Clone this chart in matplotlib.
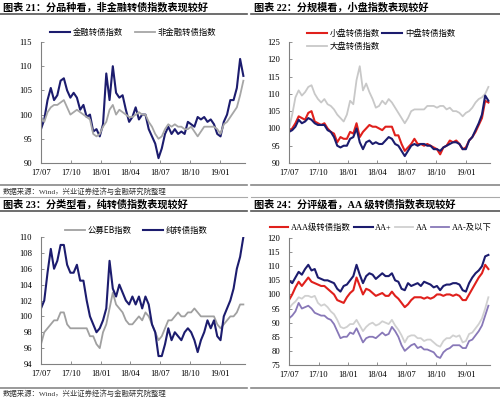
import matplotlib
matplotlib.use('Agg')
import matplotlib.pyplot as plt
import matplotlib.lines as mlines
import pandas as pd

plt.rcParams['font.family'] = ['Liberation Serif', 'Noto Sans CJK SC']

# 共通の日付（約10日間隔）
dates = pd.date_range('2017-07-01', periods=63, freq='10D').to_pydatetime()
tick_dates = pd.to_datetime(['2017-07-01', '2017-10-01', '2018-01-01', '2018-04-01',
                             '2018-07-01', '2018-10-01', '2019-01-01']).to_pydatetime()
tick_labels = ['17/07', '17/10', '18/01', '18/04', '18/07', '18/10', '19/01']

# 図表21
fin = [97, 99, 103, 105.5, 103, 104, 107, 107.5, 105, 103.5, 104.5, 103.5, 101, 102, 99.5, 100,
       96.5, 97, 95.5, 98, 108.5, 103, 110, 104.5, 103.5, 104, 101, 98.5, 99.5, 101.5, 99, 100,
       100, 97, 95.5, 94, 91, 93, 96, 97.5, 96, 97, 96, 96.5, 96, 98.5, 98, 97.5,
       99.5, 99, 99.5, 98.5, 99, 98, 96, 95.5, 98.5, 100, 103, 103, 105.5, 111.5, 108]
nonfin = [99.5, 98.5, 100.5, 101.5, 102, 102, 102.5, 103, 101.5, 100, 100.5, 101, 100.5, 100, 99.5, 99,
          96, 95.5, 96, 97.5, 98.5, 101, 102, 100, 101, 100.5, 100, 99.5, 99.5, 100, 100.5, 100,
          100, 98.5, 97.5, 96, 95, 95.5, 97, 98, 97.5, 98, 97.5, 97.5, 97, 97, 97.5, 96.5,
          95.5, 96.5, 97.5, 97.5, 97.5, 97.5, 97, 96, 98, 98.5, 99.5, 100.5, 101.5, 104, 107]

# 図表22
small = [99, 100, 101.5, 103.5, 103, 102.5, 104.5, 105, 102, 101.5, 101, 101.5, 100, 99, 98.5, 96,
         97.5, 97, 97, 99, 98.5, 101.5, 97.5, 99, 100, 101, 100.5, 100.5, 100, 99.5, 100.5, 100.5,
         100.5, 98, 98, 95.5, 93.5, 94.5, 95.5, 97, 95.5, 95.5, 95, 95.5, 95, 94.5, 94, 92.5,
         94.5, 95, 96.5, 96, 96.5, 95.5, 94, 94.5, 96.5, 97.5, 99, 101, 103, 108, 107.5]
mid = [99, 99.5, 100.5, 102.5, 101.5, 102, 103, 102.5, 101.5, 101, 101, 101, 99.5, 99, 97.5, 95,
       94.5, 95, 95, 97, 97.5, 100, 96, 94, 96, 96.5, 95.5, 96, 95.5, 95.5, 96.5, 97.5,
       97, 95.5, 95, 93.5, 92, 93.5, 95, 95.5, 95, 95.5, 95.5, 95, 95, 94, 94, 93.5,
       94.5, 95, 95.5, 96, 96, 95.5, 94, 94, 96.5, 97.5, 99.5, 101.5, 104, 109.5, 108]
large = [100, 104, 109, 111, 109.5, 110.5, 112, 112.5, 110, 108.5, 107.5, 108.5, 107, 106.5, 105.5, 104,
         103, 102, 104, 108, 107, 114, 118, 111, 113, 110.5, 108.5, 106, 106.5, 108, 107, 108.5,
         107.5, 106, 104.5, 103, 101.5, 103, 105, 105.5, 105.5, 105.5, 105.5, 106.5, 106.5, 106.5, 106, 106.5,
         106.5, 105.5, 106, 105, 105, 104.5, 103.5, 104.5, 105, 106, 107.5, 108.5, 109, 110, 112]

# 図表23
eb = [96.5, 98, 98.5, 99, 99.5, 99.5, 100.5, 100.5, 99, 98.5, 98.5, 98.5, 98.5, 98.5, 98.5, 97.5,
      97.5, 96.5, 96, 98, 99, 101, 103, 101.5, 101, 100.5, 99.5, 99, 99, 99.5, 100, 99.5,
      100.5, 100, 99, 98, 97, 97.5, 98.5, 99.5, 99.5, 100, 100.5, 100, 100, 100.5, 100.5, 101,
      100.5, 100, 100, 100, 100, 100, 99, 98.5, 99, 99.5, 100, 100, 100.5, 101.5, 101.5]
pure = [101, 102, 105.5, 108.5, 106, 107, 109, 109, 106.5, 105.5, 105.5, 106.5, 104.5, 104.5, 102, 100,
        99, 98, 98.5, 99.5, 101, 107, 103.5, 102.5, 104, 103, 102, 101.5, 102.5, 101.5, 102.5, 101,
        102.5, 101.5, 99, 98, 95, 95, 96.5, 98.5, 97, 98, 97.5, 97, 98, 98.5, 98, 97,
        95.5, 97, 98, 99.5, 98.5, 99.5, 97.5, 97, 100, 101, 102, 103.5, 106, 107.5, 110]

# 図表24
aaa = [98, 100, 102.5, 104.5, 103, 104.5, 106, 104.5, 104, 103.5, 103, 103, 102, 101, 100, 98,
       97.5, 97, 99, 100.5, 101.5, 106, 103, 100, 102, 101.5, 100.5, 99.5, 100, 100.5, 99.5, 99.5,
       101, 99.5, 98.5, 97, 95.5, 96.5, 98, 99, 99, 99, 98.5, 99, 98.5, 99, 100, 100,
       99.5, 100, 100, 99.5, 100, 99.5, 98, 98, 100, 102, 104, 106, 107.5, 110.5, 109]
aa_plus = [105, 104, 106, 108, 107, 109, 110.5, 108.5, 109, 106, 105.5, 105, 105, 104.5, 104, 102,
           101, 103, 103.5, 105, 106.5, 110.5, 107, 104, 106.5, 107.5, 107, 105.5, 106.5, 107.5, 106.5, 106.5,
           107.5, 105, 104.5, 102, 101.5, 104, 103, 103.5, 104, 103, 104.5, 104, 103.5, 102.5, 103, 101.5,
           103, 103.5, 103.5, 104, 104, 103.5, 101.5, 101, 104, 106, 107.5, 108.5, 110, 113.5, 114]
aa = [95, 96.5, 97.5, 99, 98.5, 99.5, 99.5, 99, 99.5, 97, 96, 96.5, 95.5, 94, 93, 91,
      88.5, 88, 88.5, 89.5, 89.5, 91, 89, 87, 88.5, 89.5, 90, 89, 89.5, 90.5, 90, 89.5,
      91, 89, 87.5, 85.5, 83, 85, 85.5, 85.5, 84.5, 84.5, 83.5, 84, 84, 83, 82, 81.5,
      83.5, 84.5, 84.5, 85.5, 85, 85.5, 83, 83.5, 86, 86.5, 88, 89.5, 91.5, 95, 99]
aa_minus = [91.5, 92.5, 94, 97, 95, 95.5, 96, 95, 93.5, 93, 92.5, 92.5, 91.5, 91, 89.5, 87,
            84.5, 85, 85, 86.5, 86, 88, 85.5, 83, 84.5, 85, 85, 84.5, 85.5, 86.5, 85.5, 86,
            88.5, 87, 85, 82, 80, 81, 82, 82.5, 81, 81.5, 80.5, 80.5, 80, 79.5, 78, 77.5,
            79.5, 80.5, 81, 82, 82, 82, 81, 81, 83.5, 84, 85.5, 87, 89, 92.5, 96]

NAVY = '#1c1c6e'
RED = '#e0201c'
CJK = ['Noto Sans CJK SC', 'DejaVu Sans']

fig = plt.figure(figsize=(5, 3.98), dpi=100)
W, H = 500, 398


def px_axes(x0, y0, x1, y1):
    return fig.add_axes([x0 / W, 1 - y1 / H, (x1 - x0) / W, (y1 - y0) / H])


def style(ax, ylo, yhi, step):
    ax.set_xlim(tick_dates[0], pd.Timestamp('2019-03-18').to_pydatetime())
    ax.set_ylim(ylo, yhi)
    ax.set_yticks(range(ylo, yhi + 1, step))
    ax.set_xticks(tick_dates, tick_labels)
    for s in ['top', 'right']:
        ax.spines[s].set_visible(False)
    for s in ['left', 'bottom']:
        ax.spines[s].set_color('#808080')
        ax.spines[s].set_linewidth(0.8)
    ax.tick_params(direction='in', length=2.5, width=0.6, color='#808080', labelsize=6.2)
    ax.tick_params(axis='x', pad=4.5)
    ax.tick_params(axis='y', pad=6.5)


def header(x0, x1, y, title):
    fig.text((x0 + 3) / W, 1 - y / H, title, fontsize=7.3, fontweight='bold',
             va='center', ha='left')
    ly = 14 if y < 20 else 211
    fig.add_artist(mlines.Line2D([x0 / W, x1 / W], [1 - ly / H] * 2, color='#555555', lw=1.2))


def rule(x0, x1, y, lw=1.2, color='#888888'):
    fig.add_artist(mlines.Line2D([x0 / W, x1 / W], [1 - y / H] * 2, color=color, lw=lw))


# 見出しと区切り線
header(0, 247, 7, '图表 21：分品种看，非金融转债指数表现较好')
header(251, 500, 7, '图表 22：分规模看，小盘指数表现较好')
header(0, 247, 204, '图表 23：分类型看，纯转债指数表现较好')
header(251, 500, 204, '图表 24：分评级看，AA 级转债指数表现较好')
rule(0, 247, 185)
rule(251, 500, 185)
rule(0, 247, 197, lw=0.8, color='#aaaaaa')
rule(251, 500, 197, lw=0.8, color='#aaaaaa')
rule(0, 247, 388)
rule(251, 500, 388)
src = '数据来源：Wind，兴业证券经济与金融研究院整理'
fig.text(3 / W, 1 - 191 / H, src, fontsize=5.3, va='center', color='#333333')
fig.text(3 / W, 1 - 393 / H, src, fontsize=5.3, va='center', color='#333333')

leg_kw = dict(loc='center', bbox_transform=fig.transFigure, frameon=False,
              handletextpad=0.3, borderaxespad=0, borderpad=0)

# 図表21
ax1 = px_axes(41, 42, 245, 163)
ax1.plot(dates, fin, color=NAVY, lw=1.5, label='金融转债指数')
ax1.plot(dates, nonfin, color='#a6a6a6', lw=1.3, label='非金融转债指数')
style(ax1, 90, 115, 5)
ax1.legend(bbox_to_anchor=(133 / W, 1 - 32 / H), ncol=2, prop={'family': CJK, 'size': 6},
           handlelength=2.4, columnspacing=1.4, **leg_kw)

# 図表22
ax2 = px_axes(289, 42, 490, 163)
l_large, = ax2.plot(dates, large, color='#c8c8c8', lw=1.3, label='大盘转债指数')
l_small, = ax2.plot(dates, small, color=RED, lw=1.5, label='小盘转债指数')
l_mid, = ax2.plot(dates, mid, color=NAVY, lw=1.5, label='中盘转债指数')
style(ax2, 90, 125, 5)
ax2.legend(handles=[l_small, l_large, l_mid], bbox_to_anchor=(381 / W, 1 - 40 / H), ncol=2,
           prop={'family': CJK, 'size': 6}, handlelength=2.4, columnspacing=0.3,
           labelspacing=0.4, **leg_kw)

# 図表23
ax3 = px_axes(41, 237, 245, 364)
ax3.plot(dates, eb, color='#a0a0a0', lw=1.3, label='公募EB指数')
ax3.plot(dates, pure, color=NAVY, lw=1.5, label='纯转债指数')
style(ax3, 94, 110, 2)
ax3.legend(bbox_to_anchor=(136 / W, 1 - 230 / H), ncol=2, prop={'family': CJK, 'size': 6},
           handlelength=2.4, columnspacing=1.4, **leg_kw)

# 図表24
ax4 = px_axes(289, 238, 490, 365)
ax4.plot(dates, aaa, color=RED, lw=1.5, label='AAA级转债指数')
ax4.plot(dates, aa_plus, color=NAVY, lw=1.5, label='AA+')
ax4.plot(dates, aa, color='#d0d0d0', lw=1.3, label='AA')
ax4.plot(dates, aa_minus, color='#8878b8', lw=1.3, label='AA-及以下')
style(ax4, 75, 120, 5)
ax4.legend(bbox_to_anchor=(381 / W, 1 - 228 / H), ncol=4,
           prop={'family': ['Liberation Serif', 'Noto Sans CJK SC'], 'size': 6},
           handlelength=2.2, columnspacing=0.4, **leg_kw)

fig.savefig('out.png', dpi=100)
